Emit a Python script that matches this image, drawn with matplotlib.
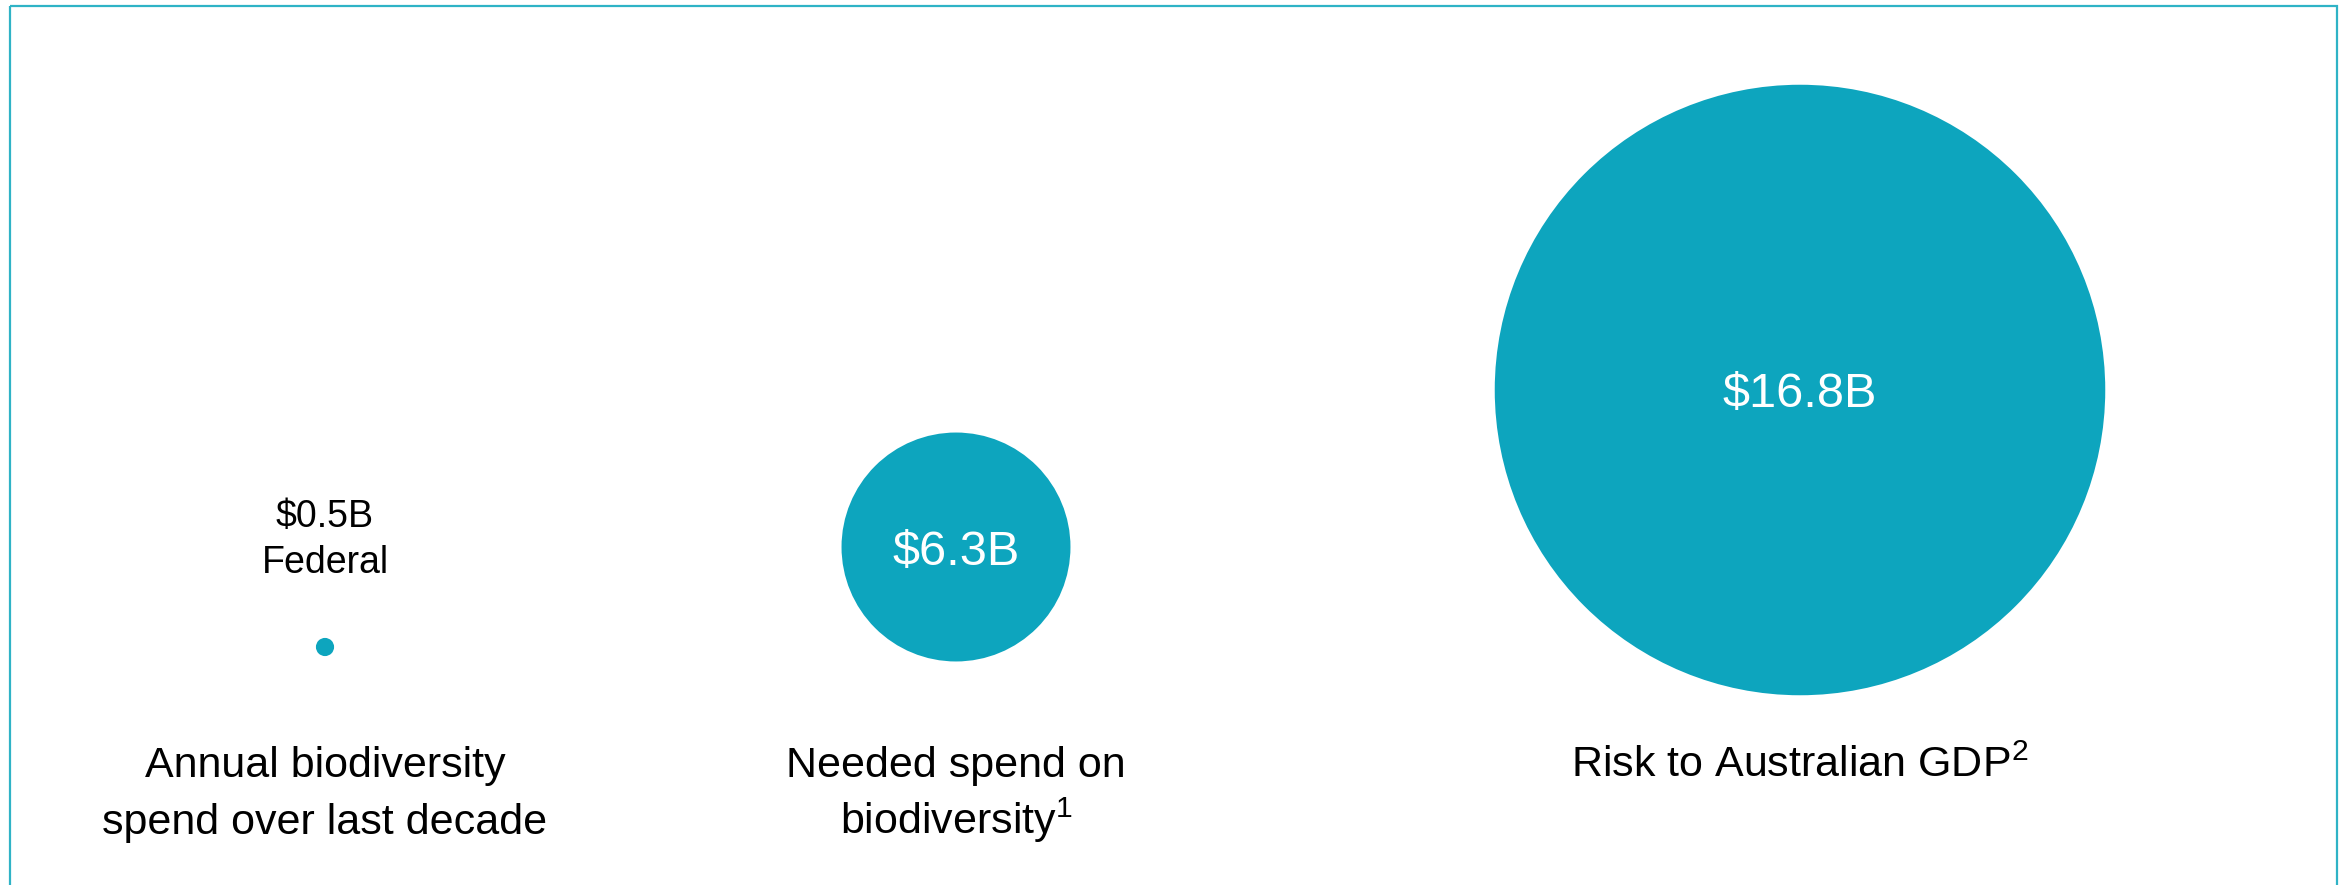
import matplotlib.pyplot as plt
from matplotlib.patches import Circle, Rectangle

plt.rcParams['font.family'] = ['Liberation Sans', 'DejaVu Sans']
plt.rcParams['mathtext.fontset'] = 'custom'
plt.rcParams['mathtext.rm'] = 'Liberation Sans'
plt.rcParams['mathtext.default'] = 'regular'

# Values in $ billions
values = [0.5, 6.3, 16.8]
value_labels = ["$0.5B\nFederal", "$6.3B", "$16.8B"]
categories = ["Annual biodiversity\nspend over last decade",
              "Needed spend on\nbiodiversity$^{1}$",
              "Risk to Australian GDP$^{2}$"]

teal = "#0DA5BE"

# layout in pixel units (figure is 2348 x 885 px)
centers_x = [325, 956, 1800]
centers_y = [647, 547, 390]
px_per_billion = 18.17   # circle radius scale
caption_baselines = [777, 834]
small_label_baselines = [527, 573]

fig = plt.figure(figsize=(23.48, 8.85), dpi=100)
ax = fig.add_axes([0, 0, 1, 1])
ax.set_xlim(0, 2348)
ax.set_ylim(885, 0)
ax.axis("off")

# outer frame
ax.add_patch(Rectangle((9.5, 5.5), 2327, 900, fill=False,
                       edgecolor="#2fb3c6", linewidth=1.6, clip_on=False))

for i, v in enumerate(values):
    r = v * px_per_billion
    ax.add_patch(Circle((centers_x[i], centers_y[i]), r,
                        facecolor=teal, edgecolor="none"))
    if i == 0:
        # dot too small to hold text, label goes above it
        for line, yb in zip(value_labels[i].split("\n"), small_label_baselines):
            ax.text(centers_x[i], yb, line, ha="center", va="baseline",
                    fontsize=27, color="black", parse_math=False)
    else:
        ax.text(centers_x[i], centers_y[i], value_labels[i], ha="center",
                va="center_baseline", fontsize=35, color="white",
                parse_math=False)

# category captions, one text per line so superscripts don't shift spacing
for i, cat in enumerate(categories):
    for line, yb in zip(cat.split("\n"), caption_baselines):
        ax.text(centers_x[i], yb, line, ha="center", va="baseline",
                fontsize=31)

fig.savefig("out.png", dpi=100)
